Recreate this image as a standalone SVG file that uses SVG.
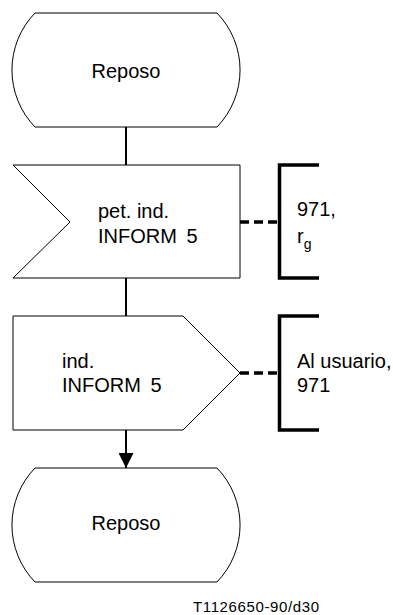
<svg xmlns="http://www.w3.org/2000/svg" width="393" height="615" viewBox="0 0 393 615">
<defs>
<style>
.shape{fill:#fff;stroke:#000;stroke-width:1}
.t{font-family:"Liberation Sans",Arial,sans-serif;font-size:20px;fill:#000}
.line{stroke:#000;stroke-width:2;fill:none}
.dash{stroke:#000;stroke-width:3.5;stroke-dasharray:9 5;fill:none}
.br{stroke:#000;stroke-width:3.5;fill:none}
</style>
<marker id="arr" markerWidth="15" markerHeight="15" refX="15" refY="7.5" orient="auto" markerUnits="userSpaceOnUse">
<path d="M0,0 L15,7.5 L0,15 Z" fill="#000"/>
</marker>
</defs>
<g id="connectors">
<line class="line" x1="126" y1="127" x2="126" y2="165"/>
<line class="line" x1="126" y1="278" x2="126" y2="316"/>
<line class="line" x1="126" y1="430" x2="126" y2="468" marker-end="url(#arr)"/>
<line class="dash" x1="240" y1="222" x2="279" y2="222"/>
<line class="dash" x1="240" y1="373" x2="279" y2="373"/>
</g>
<g id="state1">
<path class="shape" d="M35,13 H217 A82,82 0 0 1 217,127 H35 A82,82 0 0 1 35,13 Z"/>
<text class="t" x="126" y="78" text-anchor="middle">Reposo</text>
</g>
<g id="input1">
<path class="shape" d="M13,165 H240 V278 H13 L70,222 Z"/>
<text class="t" x="98" y="218">pet. ind.</text>
<text class="t" x="98" y="243" word-spacing="4">INFORM 5</text>
</g>
<g id="comment1">
<path class="br" d="M319,165 H279.5 V278 H319"/>
<text class="t" x="297" y="216">971,</text>
<text class="t" x="297" y="243">r<tspan font-size="14" dy="6">g</tspan></text>
</g>
<g id="output1">
<path class="shape" d="M13,316 H183 L240,373 L183,430 H13 Z"/>
<text class="t" x="62" y="368">ind.</text>
<text class="t" x="62" y="392" word-spacing="4">INFORM 5</text>
</g>
<g id="comment2">
<path class="br" d="M319,316 H279.5 V430 H319"/>
<text class="t" x="297" y="368">Al usuario,</text>
<text class="t" x="297" y="392">971</text>
</g>
<g id="state2">
<path class="shape" d="M35,468 H217 A82,82 0 0 1 217,582 H35 A82,82 0 0 1 35,468 Z"/>
<text class="t" x="126" y="530" text-anchor="middle">Reposo</text>
</g>
<text class="t" x="193" y="612" textLength="126" style="font-size:15px">T1126650-90/d30</text>
</svg>
